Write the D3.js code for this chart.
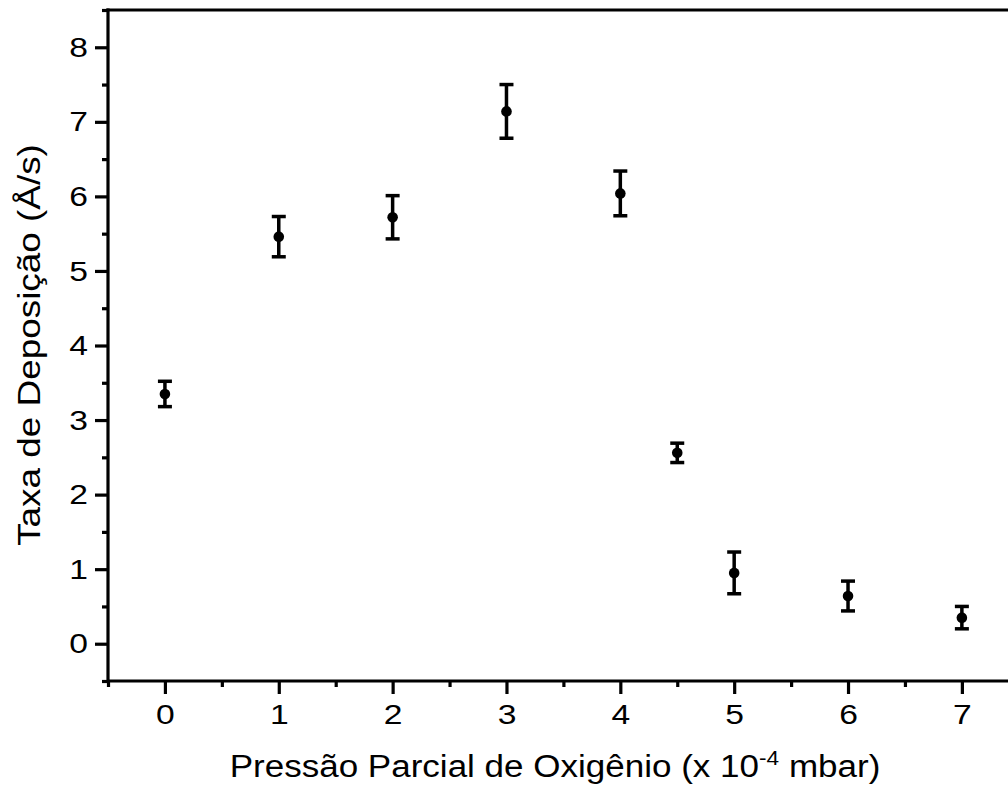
<!DOCTYPE html>
<html><head><meta charset="utf-8">
<script src="https://cdn.jsdelivr.net/npm/d3@7"></script>
<style>body{margin:0;background:#fff;} svg{display:block;}</style>
</head><body>
<svg id="c" width="1008" height="792"></svg>
<script>
const xVals = [0, 1, 2, 3, 4, 4.5, 5, 6, 7];
const yVals = [3.35, 5.46, 5.72, 7.14, 6.04, 2.56, 0.95, 0.64, 0.35];
const yErr  = [0.17, 0.27, 0.29, 0.36, 0.30, 0.13, 0.28, 0.20, 0.15];
const xTicks = [0, 1, 2, 3, 4, 5, 6, 7];
const yTicks = [0, 1, 2, 3, 4, 5, 6, 7, 8];

const svg = d3.select("#c");
const font = "Liberation Sans, Arial, sans-serif";
const SX = 1.18;
const x = d3.scaleLinear().domain([-0.5, 7.5]).range([108, 1018.8]);
const y = d3.scaleLinear().domain([-0.5, 8.5]).range([681, 10]);

const xAxis = d3.axisBottom(x).tickValues(xTicks).tickSize(13).tickPadding(10).tickFormat(d3.format("d"));
const xMinor = d3.axisBottom(x).tickValues(d3.range(-0.5, 7.6, 1)).tickSize(6).tickFormat("");
const yAxis = d3.axisLeft(y).tickValues(yTicks).tickSize(13).tickPadding(7).tickFormat(d3.format("d"));
const yMinor = d3.axisLeft(y).tickValues(d3.range(-0.5, 8.6, 1)).tickSize(6).tickFormat("");

function style(g){
  g.select(".domain").remove();
  g.selectAll("line").attr("stroke","#000").attr("stroke-width",3.2);
  g.selectAll("text").attr("font-family",font).attr("font-size",28.5).attr("fill","#000");
}
svg.append("g").attr("transform","translate(0,681)").call(xMinor).call(style);
const gx = svg.append("g").attr("transform","translate(0,681)").call(xAxis).call(style);
svg.append("g").attr("transform","translate(108,0)").call(yMinor).call(style);
const gy = svg.append("g").attr("transform","translate(108,0)").call(yAxis).call(style);
gx.selectAll(".tick text").each(function(){
  const t = d3.select(this); const yy = +t.attr("y");
  t.attr("y",0).attr("transform",`translate(0,${yy}) scale(${SX},1)`);
});
gy.selectAll(".tick text").each(function(){
  const t = d3.select(this); const xx = +t.attr("x");
  t.attr("x",0).attr("transform",`translate(${xx},0) scale(${SX},1)`);
});

// frame lines (left, bottom, top)
const fw = 3.2;
svg.append("line").attr("x1",108).attr("x2",1008).attr("y1",681).attr("y2",681).attr("stroke","#000").attr("stroke-width",fw);
svg.append("line").attr("x1",108).attr("x2",108).attr("y1",8.4).attr("y2",682.6).attr("stroke","#000").attr("stroke-width",fw);
svg.append("line").attr("x1",106.4).attr("x2",1008).attr("y1",10).attr("y2",10).attr("stroke","#000").attr("stroke-width",fw);

// error bars
const data = xVals.map((v,i)=>({x:v, y:yVals[i], e:yErr[i]}));
const eb = svg.append("g").attr("stroke","#000").attr("stroke-width",3.5);
data.forEach(d=>{
  const cx = x(d.x);
  eb.append("line").attr("x1",cx).attr("x2",cx).attr("y1",y(d.y+d.e)).attr("y2",y(d.y-d.e));
  eb.append("line").attr("x1",cx-7).attr("x2",cx+7).attr("y1",y(d.y+d.e)).attr("y2",y(d.y+d.e));
  eb.append("line").attr("x1",cx-7).attr("x2",cx+7).attr("y1",y(d.y-d.e)).attr("y2",y(d.y-d.e));
});
svg.append("g").selectAll("circle").data(data).join("circle")
  .attr("cx",d=>x(d.x)).attr("cy",d=>y(d.y)).attr("r",5.3).attr("fill","#000");

// titles
svg.append("text").attr("transform","translate(40,345) rotate(-90) scale(1.19,1)").attr("text-anchor","middle")
  .attr("font-family",font).attr("font-size",31).attr("fill","#000").text("Taxa de Deposição (Å/s)");
const xt = svg.append("text").attr("transform","translate(555,777) scale(1.13,1)").attr("text-anchor","middle")
  .attr("font-family",font).attr("font-size",31).attr("fill","#000");
xt.append("tspan").text("Pressão Parcial de Oxigênio (x 10");
xt.append("tspan").attr("dy",-12).attr("font-size",20).text("-4");
xt.append("tspan").attr("dy",12).text(" mbar)");
</script>
</body></html>
